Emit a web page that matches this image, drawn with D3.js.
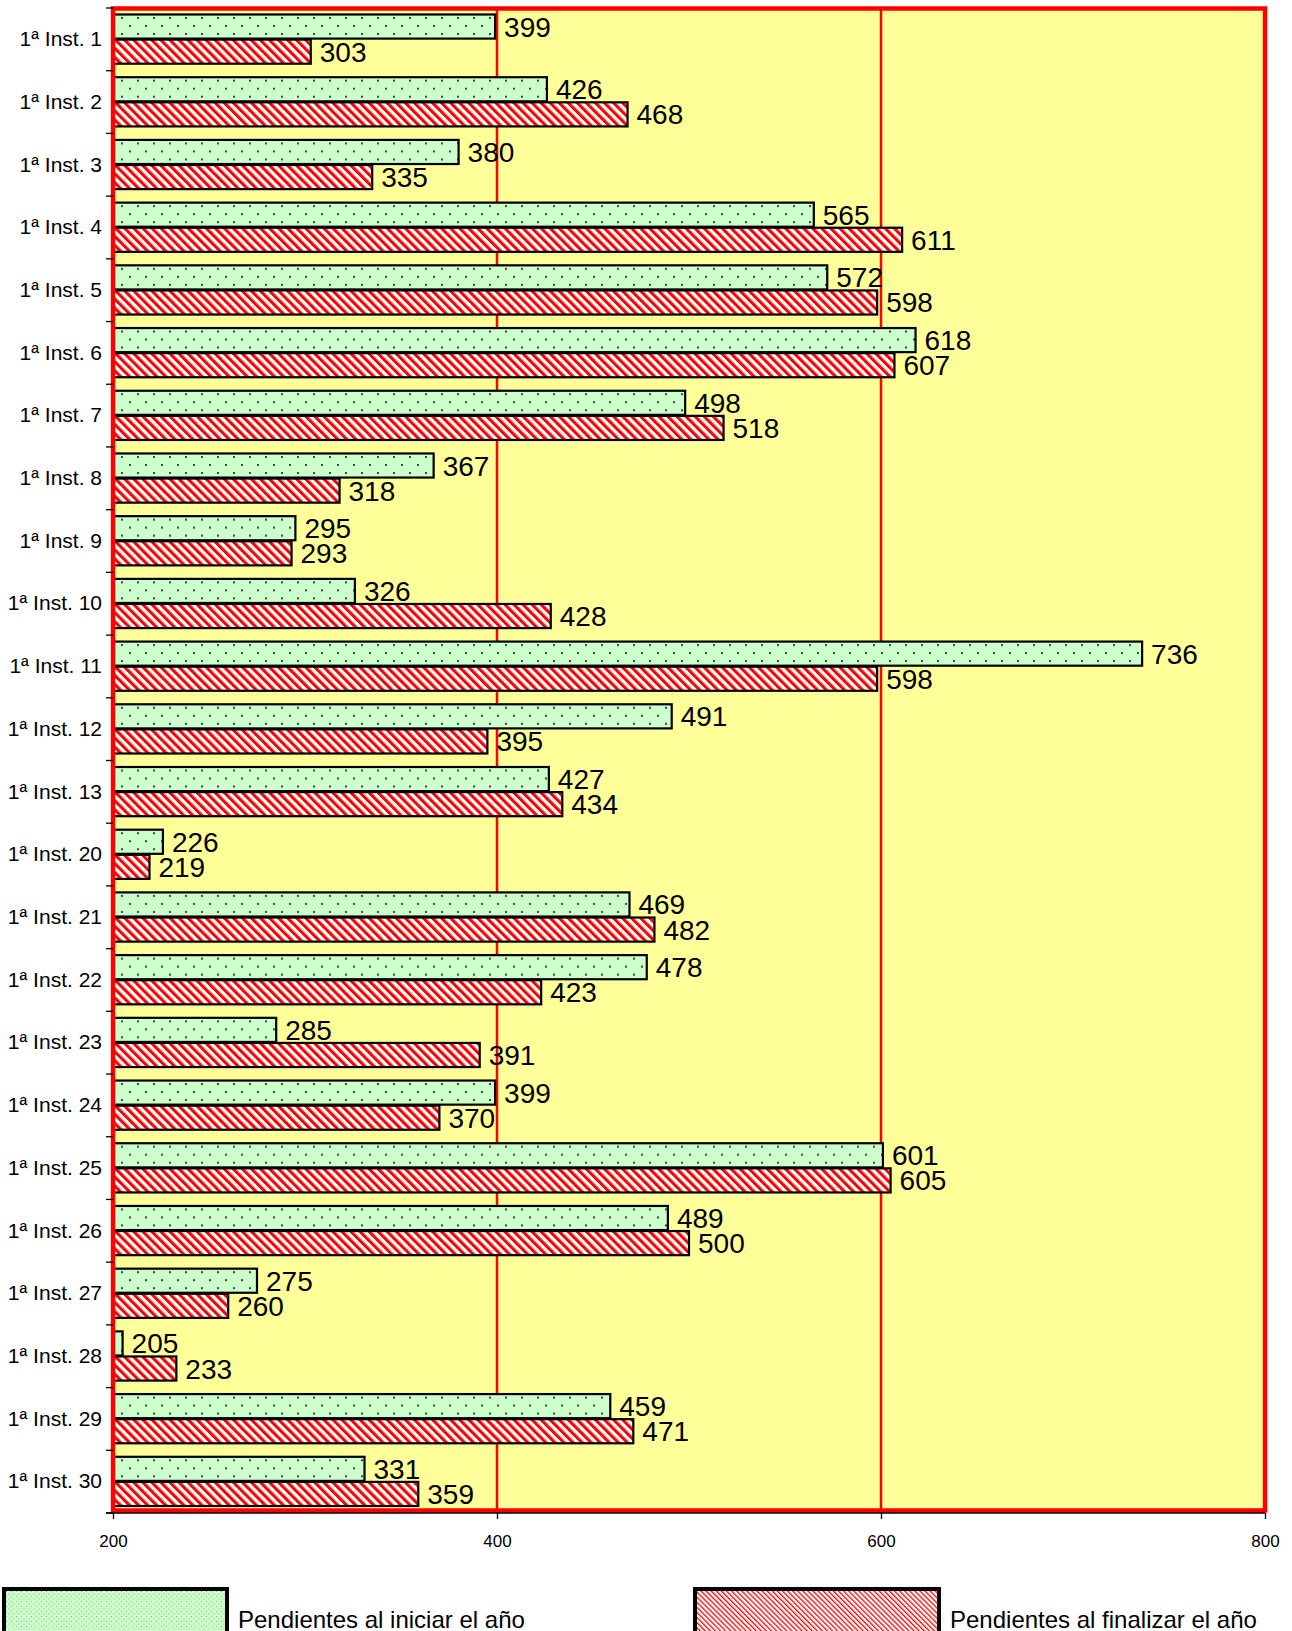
<!DOCTYPE html>
<html>
<head>
<meta charset="utf-8">
<script src="https://cdn.jsdelivr.net/npm/d3@7"></script>
<style>
  html, body { margin: 0; padding: 0; background: #ffffff; }
  svg { display: block; font-family: "Liberation Sans", Arial, sans-serif; }
</style>
</head>
<body>
<svg id="chart" width="1292" height="1631"></svg>
<script>
// Juzgados de 1ª Instancia: asuntos pendientes al iniciar y al finalizar el año
const categories = [
  "1ª Inst. 1", "1ª Inst. 2", "1ª Inst. 3", "1ª Inst. 4", "1ª Inst. 5", "1ª Inst. 6",
  "1ª Inst. 7", "1ª Inst. 8", "1ª Inst. 9", "1ª Inst. 10", "1ª Inst. 11", "1ª Inst. 12",
  "1ª Inst. 13", "1ª Inst. 20", "1ª Inst. 21", "1ª Inst. 22", "1ª Inst. 23", "1ª Inst. 24",
  "1ª Inst. 25", "1ª Inst. 26", "1ª Inst. 27", "1ª Inst. 28", "1ª Inst. 29", "1ª Inst. 30"
];
const pendientesInicio = [399, 426, 380, 565, 572, 618, 498, 367, 295, 326, 736, 491,
                          427, 226, 469, 478, 285, 399, 601, 489, 275, 205, 459, 331];
const pendientesFin    = [303, 468, 335, 611, 598, 607, 518, 318, 293, 428, 598, 395,
                          434, 219, 482, 423, 391, 370, 605, 500, 260, 233, 471, 359];
const seriesNames = ["Pendientes al iniciar el año", "Pendientes al finalizar el año"];
const xTicks = [200, 400, 600, 800];
const xDomain = [200, 800];

const svg = d3.select("#chart");
const plot = { left: 113, right: 1265, top: 8, bottom: 1513 };

const x = d3.scaleLinear().domain(xDomain).range([plot.left, plot.right]);
const y = d3.scaleBand().domain(categories).range([plot.top, plot.bottom]).padding(0);
const inner = d3.scaleBand().domain(["ini", "fin"])
  .range([6.5, y.bandwidth() - 7]).paddingInner(0.04);

// ---- fill patterns ----
const defs = svg.append("defs");

function dotPattern(id, size, fill, dot, r) {
  const p = defs.append("pattern").attr("id", id)
    .attr("patternUnits", "userSpaceOnUse")
    .attr("width", size).attr("height", size);
  p.append("rect").attr("width", size).attr("height", size).attr("fill", fill);
  p.append("rect").attr("x", 1).attr("y", 1).attr("width", r).attr("height", r).attr("fill", dot);
  p.append("rect").attr("x", 1 + size / 2).attr("y", 1 + size / 2).attr("width", r).attr("height", r).attr("fill", dot);
}
function hatchPattern(id, period, stripe) {
  const p = defs.append("pattern").attr("id", id)
    .attr("patternUnits", "userSpaceOnUse")
    .attr("width", period).attr("height", period)
    .attr("patternTransform", "rotate(-45)");
  p.append("rect").attr("width", period).attr("height", period).attr("fill", "#ffffff");
  p.append("rect").attr("width", stripe).attr("height", period).attr("fill", "#ff0000");
}
dotPattern("dotsBar", 16, "#ccffcc", "#3c4a3c", 2);
hatchPattern("hatchBar", 6.4, 3.1);
dotPattern("dotsLegend", 5, "#ccffcc", "#8fb08f", 1);
hatchPattern("hatchLegend", 3.6, 1.3);

// ---- plot background and grid ----
svg.append("rect")
  .attr("x", plot.left).attr("y", plot.top)
  .attr("width", plot.right - plot.left).attr("height", plot.bottom - plot.top - 2)
  .attr("fill", "#ffff99");

svg.append("g").selectAll("line")
  .data(xTicks.filter(t => t > xDomain[0] && t < xDomain[1]))
  .join("line")
  .attr("x1", d => x(d)).attr("x2", d => x(d))
  .attr("y1", plot.top).attr("y2", plot.bottom)
  .attr("stroke", "#ff0000").attr("stroke-width", 2.5);

// ---- bars ----
const rows = categories.map((c, i) => ({ cat: c, ini: pendientesInicio[i], fin: pendientesFin[i] }));
const series = [
  { key: "ini", fill: "url(#dotsBar)" },
  { key: "fin", fill: "url(#hatchBar)" }
];

const groups = svg.append("g").selectAll("g")
  .data(rows).join("g")
  .attr("transform", d => `translate(0,${y(d.cat)})`);

series.forEach(s => {
  groups.append("rect")
    .attr("x", x(xDomain[0]))
    .attr("y", inner(s.key))
    .attr("width", d => x(d[s.key]) - x(xDomain[0]))
    .attr("height", inner.bandwidth())
    .attr("fill", s.fill)
    .attr("stroke", "#000000").attr("stroke-width", 2.2);

  groups.append("text")
    .attr("x", d => x(d[s.key]) + 9)
    .attr("y", inner(s.key) + inner.bandwidth() / 2 + 10)
    .attr("font-size", 28)
    .attr("fill", "#000000")
    .text(d => d[s.key]);
});

// ---- plot frame ----
svg.append("rect")
  .attr("x", plot.left).attr("y", plot.top + 0.5)
  .attr("width", plot.right - plot.left).attr("height", plot.bottom - plot.top - 3)
  .attr("fill", "none").attr("stroke", "#ff0000").attr("stroke-width", 4.5);

// ---- axes ----
const yAxis = svg.append("g")
  .attr("transform", `translate(${plot.left},0)`)
  .call(d3.axisLeft(y).tickSize(0).tickPadding(11));
yAxis.select(".domain").remove();
yAxis.selectAll("text").attr("font-size", 21).attr("font-family", "Liberation Sans, Arial, sans-serif").attr("fill", "#000");

// category boundary ticks
const bounds = categories.map(c => y(c)).concat([y.range()[1]]);
svg.append("g").selectAll("line").data(bounds).join("line")
  .attr("x1", plot.left - 7).attr("x2", plot.left)
  .attr("y1", d => d).attr("y2", d => d)
  .attr("stroke", "#000").attr("stroke-width", 1.3);

const xAxis = svg.append("g")
  .attr("transform", `translate(0,${plot.bottom})`)
  .call(d3.axisBottom(x).tickValues(xTicks).tickSize(6).tickPadding(16).tickFormat(d3.format("d")));
xAxis.select(".domain").attr("d", `M${plot.left - 7},0H${plot.right}`).attr("stroke-width", 1.3);
xAxis.selectAll(".tick line").attr("stroke-width", 1.3);
xAxis.selectAll("text").attr("font-size", 17).attr("font-family", "Liberation Sans, Arial, sans-serif").attr("fill", "#000");

// ---- legend ----
const legendItems = [
  { name: seriesNames[0], fill: "url(#dotsLegend)", box: [4, 227], text: 238 },
  { name: seriesNames[1], fill: "url(#hatchLegend)", box: [695, 939], text: 950 }
];
const legend = svg.append("g");
legendItems.forEach(it => {
  legend.append("rect")
    .attr("x", it.box[0]).attr("y", 1589)
    .attr("width", it.box[1] - it.box[0]).attr("height", 60)
    .attr("fill", it.fill).attr("stroke", "#000").attr("stroke-width", 4);
  legend.append("text")
    .attr("x", it.text).attr("y", 1628)
    .attr("font-size", 24).attr("fill", "#000")
    .text(it.name);
});
</script>
</body>
</html>
